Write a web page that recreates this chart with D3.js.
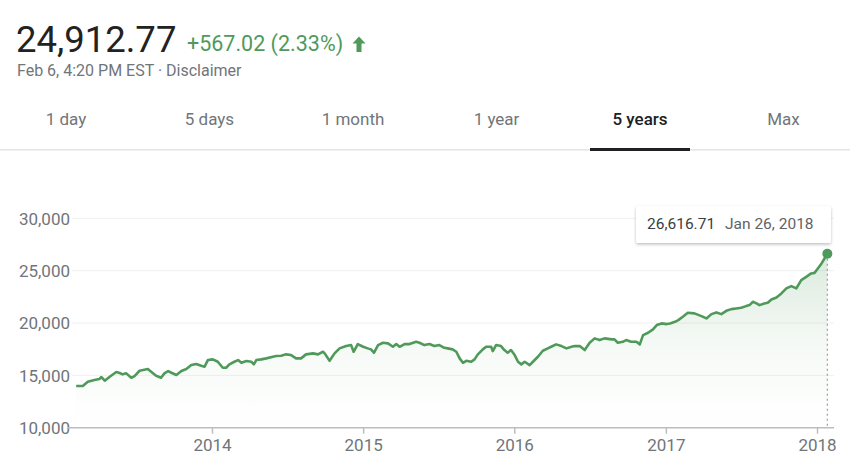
<!DOCTYPE html>
<html>
<head>
<meta charset="utf-8">
<script src="https://cdn.jsdelivr.net/npm/d3@7"></script>
<style>
  html, body { margin: 0; padding: 0; background: #fff; }
  svg { display: block; font-family: Roboto, "Noto Sans", sans-serif; }
</style>
</head>
<body>
<svg id="chart" width="850" height="463"></svg>
<script>
// ---- data ----
const dates = [
  "2013-02-07","2013-02-23","2013-03-07","2013-03-23","2013-04-04","2013-04-09","2013-04-17","2013-04-29",
  "2013-05-15","2013-05-23","2013-05-30","2013-06-08","2013-06-20","2013-06-28","2013-07-10","2013-07-30",
  "2013-08-07","2013-08-19","2013-08-31","2013-09-08","2013-09-17","2013-09-25","2013-10-07","2013-10-19",
  "2013-10-31","2013-11-12","2013-11-24","2013-12-06","2013-12-14","2013-12-22",
  "2014-01-03","2014-01-15","2014-01-27","2014-02-04","2014-02-12","2014-02-24","2014-03-05","2014-03-13",
  "2014-03-25","2014-04-06","2014-04-12","2014-04-18","2014-04-30","2014-05-12","2014-05-28","2014-06-05",
  "2014-06-17","2014-06-29","2014-07-11","2014-07-23","2014-08-04","2014-08-16","2014-09-02","2014-09-14",
  "2014-09-26","2014-09-30","2014-10-12","2014-10-24","2014-11-05","2014-11-21","2014-12-03","2014-12-09",
  "2014-12-19",
  "2015-01-01","2015-01-12","2015-01-20","2015-01-27","2015-02-06","2015-02-18","2015-03-02","2015-03-14",
  "2015-03-22","2015-03-30","2015-04-11","2015-04-23","2015-05-09","2015-05-17","2015-05-29","2015-06-10",
  "2015-06-22","2015-07-04","2015-07-16","2015-07-24","2015-08-05","2015-08-14","2015-08-22","2015-08-30",
  "2015-09-07","2015-09-19","2015-09-27","2015-10-05","2015-10-17","2015-10-25","2015-11-06","2015-11-10",
  "2015-11-18","2015-11-30","2015-12-08","2015-12-16","2015-12-24",
  "2016-01-02","2016-01-10","2016-01-18","2016-01-26","2016-02-07","2016-02-15","2016-02-27","2016-03-10",
  "2016-03-22","2016-03-30","2016-04-11","2016-04-24","2016-05-06","2016-05-18","2016-05-26","2016-06-07",
  "2016-06-19","2016-07-01","2016-07-13","2016-07-25","2016-08-06","2016-08-23","2016-08-30","2016-09-07",
  "2016-09-19","2016-09-27","2016-10-09","2016-10-22","2016-10-30","2016-11-07","2016-11-19","2016-12-01",
  "2016-12-10","2016-12-22",
  "2017-01-03","2017-01-11","2017-01-23","2017-01-31","2017-02-11","2017-02-23","2017-03-11","2017-03-28",
  "2017-04-09","2017-04-21","2017-05-03","2017-05-15","2017-05-27","2017-06-08","2017-06-20","2017-07-02",
  "2017-07-14","2017-07-22","2017-07-30","2017-08-08","2017-08-15","2017-08-27","2017-09-04","2017-09-13",
  "2017-09-25","2017-10-07","2017-10-19","2017-10-31","2017-11-12","2017-11-24","2017-12-06","2017-12-18",
  "2017-12-26",
  "2018-01-03","2018-01-12","2018-01-26"
];
const values = [
  13979,13979,14389,14552,14647,14838,14485,14866,
  15315,15220,15095,15191,14771,14933,15439,15601,
  15344,14962,14771,15191,15410,15248,15029,15410,
  15601,15983,16078,15916,15821,16460,
  16527,16298,15725,15725,16050,16298,16460,16202,
  16365,16298,16050,16460,16527,16622,16775,16842,
  16870,17004,16937,16622,16622,17004,17099,17004,
  17252,17099,16393,17099,17576,17796,17891,17252,
  17987,
  17729,17576,17481,17157,17891,18111,18054,17729,
  17987,17729,17987,17987,18206,18111,17891,17987,
  17796,17891,17634,17576,17481,17252,16622,16202,
  16393,16298,16527,17004,17481,17729,17729,17319,
  17891,17796,17414,17157,17414,
  16937,16298,16050,16298,15983,16298,16775,17347,
  17576,17729,17958,17796,17576,17729,17796,17796,
  17414,18111,18531,18368,18531,18435,18435,18111,
  18206,18368,18206,18206,17958,18845,19065,19390,
  19800,19962,
  19895,19962,20115,20277,20592,20973,20916,20659,
  20439,20849,21012,20849,21164,21326,21393,21450,
  21613,21708,22023,21870,21708,21870,21928,22252,
  22443,22824,23301,23521,23301,24094,24408,24733,
  24790,
  25210,25687,26616.71
];
const yTicks = [10000, 15000, 20000, 25000, 30000];
const xTickYears = ["2014","2015","2016","2017","2018"];
const tabs = ["1 day","5 days","1 month","1 year","5 years","Max"];
const selectedTab = "5 years";
const header = {
  price: "24,912.77",
  change: "+567.02 (2.33%)",
  sub: "Feb 6, 4:20 PM EST \u00b7 Disclaimer",
  tipValue: "26,616.71",
  tipDate: "Jan 26, 2018"
};

// ---- drawing ----
const svg = d3.select("#chart");
const parse = d3.timeParse("%Y-%m-%d");
const data = dates.map((d, i) => ({ date: parse(d), value: values[i] }));

const green = "#4f9a5a";
const plotLeft = 68, plotRight = 834, plotBottom = 427.7, plotTop = 218.3;

const x = d3.scaleTime()
  .domain([parse("2014-01-01"), parse("2018-01-01")])
  .range([212, 817]);
const y = d3.scaleLinear().domain([10000, 30000]).range([plotBottom, plotTop]);

// header
svg.append("text").attr("x", 16).attr("y", 52)
  .attr("font-size", 36.5).attr("fill", "#222").text(header.price);
svg.append("text").attr("x", 187).attr("y", 51)
  .attr("font-size", 21.5).attr("fill", green).text(header.change);
// up arrow
svg.append("path")
  .attr("d", "M359,36.5 L352.5,43.5 L356.5,43.5 L356.5,52 L361.5,52 L361.5,43.5 L365.5,43.5 Z")
  .attr("fill", green);
svg.append("text").attr("x", 17).attr("y", 76)
  .attr("font-size", 16).attr("fill", "#70757a").text(header.sub);

// tabs
const tabW = 143.5;
svg.selectAll("text.tab").data(tabs).join("text")
  .attr("class", "tab")
  .attr("x", (d, i) => 66 + i * tabW)
  .attr("y", 125)
  .attr("text-anchor", "middle")
  .attr("font-size", 17)
  .attr("font-weight", d => d === selectedTab ? 500 : 400)
  .attr("fill", d => d === selectedTab ? "#202124" : "#70757a")
  .text(d => d);
svg.append("rect").attr("x", 0).attr("y", 149).attr("width", 850).attr("height", 1.5).attr("fill", "#e4e4e4");
const selIdx = tabs.indexOf(selectedTab);
svg.append("rect").attr("x", 66 + selIdx * tabW - 50).attr("y", 148).attr("width", 100).attr("height", 3).attr("fill", "#202124");

// gridlines
svg.append("g").selectAll("line").data(yTicks.filter(v => v > 10000)).join("line")
  .attr("x1", plotLeft + 4).attr("x2", plotRight)
  .attr("y1", d => y(d)).attr("y2", d => y(d))
  .attr("stroke", "#f0f0f0").attr("stroke-width", 1);

// area gradient
const defs = svg.append("defs");
const grad = defs.append("linearGradient").attr("id", "fillGrad")
  .attr("gradientUnits", "userSpaceOnUse")
  .attr("x1", 0).attr("x2", 0).attr("y1", y(26616)).attr("y2", plotBottom);
grad.append("stop").attr("offset", "0%").attr("stop-color", green).attr("stop-opacity", 0.2);
grad.append("stop").attr("offset", "55%").attr("stop-color", green).attr("stop-opacity", 0.05);
grad.append("stop").attr("offset", "100%").attr("stop-color", green).attr("stop-opacity", 0);

const filt = defs.append("filter").attr("id", "shadow").attr("x", "-10%").attr("y", "-30%").attr("width", "120%").attr("height", "170%");
filt.append("feDropShadow").attr("dx", 0).attr("dy", 1.5).attr("stdDeviation", 1.8).attr("flood-color", "#000").attr("flood-opacity", 0.25);

svg.append("path").datum(data)
  .attr("d", d3.area().x(d => x(d.date)).y0(plotBottom).y1(d => y(d.value)))
  .attr("fill", "url(#fillGrad)");

// y axis labels
const yAxis = d3.axisLeft(y).tickValues(yTicks).tickSize(0).tickPadding(0)
  .tickFormat(d3.format(","));
const gy = svg.append("g").attr("transform", `translate(${plotLeft + 2},0)`).call(yAxis);
gy.select(".domain").remove();
gy.selectAll("text").attr("font-size", 17).attr("fill", "#70757a")
  .attr("font-family", "Roboto, sans-serif").attr("dy", "0.35em");

// x axis
const xAxis = d3.axisBottom(x)
  .tickValues(xTickYears.map(yr => parse(yr + "-01-01")))
  .tickSize(6).tickPadding(5)
  .tickFormat(d3.timeFormat("%Y"));
const gx = svg.append("g").attr("transform", `translate(0,${plotBottom})`).call(xAxis);
gx.select(".domain").remove();
gx.selectAll(".tick line").attr("stroke", "#bdbdbd").attr("stroke-width", 1.5);
gx.selectAll("text").attr("font-size", 17).attr("fill", "#70757a")
  .attr("font-family", "Roboto, sans-serif");
svg.append("line").attr("x1", plotLeft).attr("x2", plotRight)
  .attr("y1", plotBottom).attr("y2", plotBottom)
  .attr("stroke", "#bdbdbd").attr("stroke-width", 1.5);

// line
svg.append("path").datum(data)
  .attr("d", d3.line().x(d => x(d.date)).y(d => y(d.value)))
  .attr("fill", "none").attr("stroke", green).attr("stroke-width", 2.6)
  .attr("stroke-linejoin", "round");

// hover marker
const last = data[data.length - 1];
svg.append("line")
  .attr("x1", x(last.date)).attr("x2", x(last.date))
  .attr("y1", y(last.value)).attr("y2", plotBottom)
  .attr("stroke", "#9e9e9e").attr("stroke-width", 1.2).attr("stroke-dasharray", "2,3");
svg.append("circle").attr("cx", x(last.date)).attr("cy", y(last.value)).attr("r", 5)
  .attr("fill", green);

// tooltip
const tip = svg.append("g");
tip.append("rect").attr("x", 636).attr("y", 206).attr("width", 195).attr("height", 37)
  .attr("rx", 2).attr("fill", "#fff").attr("filter", "url(#shadow)");
tip.append("text").attr("x", 647).attr("y", 229).attr("font-size", 15.5).attr("fill", "#3c4043")
  .text(header.tipValue);
tip.append("text").attr("x", 725).attr("y", 229).attr("font-size", 15.5).attr("fill", "#5f6368")
  .text(header.tipDate);
</script>
</body>
</html>
